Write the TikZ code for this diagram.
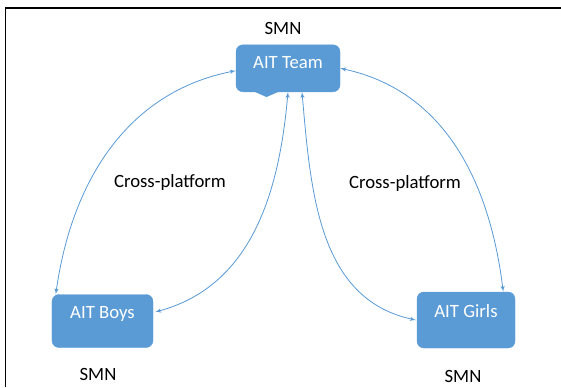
\documentclass[tikz,border=0pt]{standalone}
\usepackage{fontspec}
\setmainfont{Carlito}
\usepackage{xcolor}
\usetikzlibrary{arrows,
	calc}
\definecolor{aitblue}{HTML}{5B9BD5}

\begin{document}
\begin{tikzpicture}[x = 0.03cm,
                y = -0.03cm,
                >=latex', font=\fontsize{16}{19}\selectfont,
                box/.style={fill=aitblue, draw=aitblue, rounded corners=6pt, text=white,
                            inner sep=0pt, text height=0.35cm, text depth=0.5cm},
                lbl/.style={text depth=0pt},
                link/.style={aitblue, line width=0.7pt, <->}]
            \useasboundingbox (0, 0) rectangle (561, 387);
            \draw[line width=1.5pt] (5.5, 387) |- (561, 8);
            % the three groups
            \node[box, minimum width=3.12cm, minimum height=1.41cm, text depth=0.35cm] (team) at (288, 68.3) {AIT Team};
            \fill[aitblue] ($(team.south)+(-34, -0.5)$) -- ($(team.south)+(-9, -0.5)$) -- ($(team.south)+(-21.5, 5)$) -- cycle;
            \node[box, minimum width=3.03cm, minimum height=1.59cm] (boys) at (102.5, 321) {AIT Boys};
            \node[box, minimum width=2.94cm, minimum height=1.68cm] (girls) at (466, 320) {AIT Girls};
            \node[lbl] (smnteam) at (283, 28) {SMN};
            \node[lbl] (smnboys) at (98, 374) {SMN};
            \node[lbl] (smngirls) at (463, 376) {SMN};
            \node[lbl] (crossleft) at (170, 181) {Cross-platform};
            \node[lbl] (crossright) at (405, 182) {Cross-platform};
            % links
            \draw[link] ($(team.west)+(0, 2.4)$) to[out=191, in=82] ($(boys.north west)+(4, 0)$);
            \draw[link] (team.south) to[out=265, in=15] ($(boys.east)+(2, -9)$);
            \draw[link] ($(team.south)+(14, 0)$) to[out=275, in=168] ($(girls.west)+(-1, 0)$);
            \draw[link] (team.east) to[out=-12, in=97] ($(girls.north east)+(-12, 0)$);
        \end{tikzpicture}
\end{document}
